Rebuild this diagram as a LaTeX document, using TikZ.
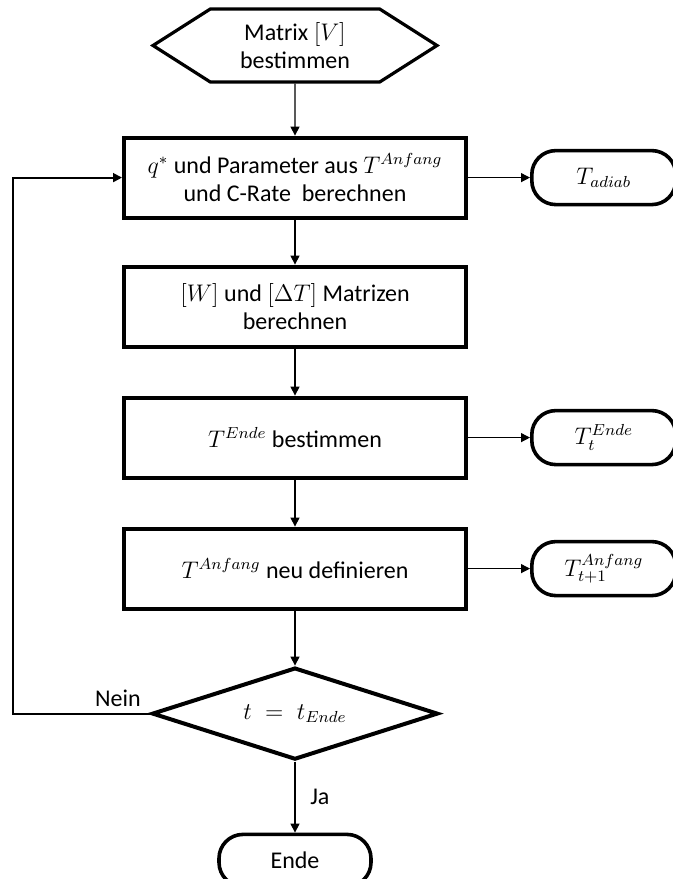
\documentclass[tikz,border=0pt]{standalone}
\usepackage{fontspec}
\setmainfont{Carlito}
\usetikzlibrary{positioning,shapes.geometric,shapes.symbols,arrows.meta}

\begin{document}
\begin{tikzpicture}[x=0.5pt, y=-0.5pt, font=\fontsize{12}{14.4}\selectfont,
hexa/.style={draw, signal, signal to=east and west, signal pointer angle=65, line width=1.6pt, minimum width=142pt, minimum height=36.5pt, align=center},
box/.style={draw, line width=2pt, minimum width=171pt, minimum height=40pt, align=center},
term/.style={draw, line width=1.8pt, rounded corners=12pt, minimum width=72pt, minimum height=27pt},
cond/.style={draw, diamond, aspect=3.1, line width=2pt, inner sep=0pt, minimum width=143pt, minimum height=46pt},
line/.style={line width=0.6pt, -{Triangle[length=4.5pt,width=4.5pt]}}]
\useasboundingbox (0,0) rectangle (673,879);

\node[hexa] (mat) at (295,45.5) {Matrix $[V]$\\bestimmen};
\node[box, below=26pt of mat] (par) {$q^{*}$ und Parameter aus $T^{Anfang}$\\und C-Rate~ berechnen};
\node[box, below=22.5pt of par] (mtx) {$[W]$ und $[\Delta T]$ Matrizen\\berechnen};
\node[box, below=23.5pt of mtx] (ende) {$T^{Ende}$ bestimmen};
\node[box, below=23.5pt of ende] (anf) {$T^{Anfang}$ neu definieren};
\node[cond, below=27.5pt of anf] (dec) {$t \;=\; t_{Ende}$};
\node[term, minimum width=76pt, minimum height=26pt, below=35.5pt of dec] (stop) {Ende};

\node[term, right=31pt of par] (tad) {$T_{adiab}$};
\node[term, right=31pt of ende] (tend) {$T_{t}^{Ende}$};
\node[term, right=31pt of anf] (tanf) {$T_{t+1}^{Anfang}$};

\coordinate[left=68.5pt of dec.west] (back);

\draw[line] (mat) -- (par);
\draw[line] (par) -- (mtx);
\draw[line] (mtx) -- (ende);
\draw[line] (ende) -- (anf);
\draw[line] (anf) -- (dec);
\draw[line] (dec) -- node[right=4pt]{Ja} (stop);
\draw[line] (par) -- (tad);
\draw[line] (ende) -- (tend);
\draw[line] (anf) -- (tanf);
\draw[line, line width=0.9pt] (dec.west) -- (back) |- (par.west);
\node[anchor=south east, inner sep=1pt, xshift=-3.5pt, yshift=2.5pt] at (dec.west) {Nein};
\end{tikzpicture}
\end{document}
